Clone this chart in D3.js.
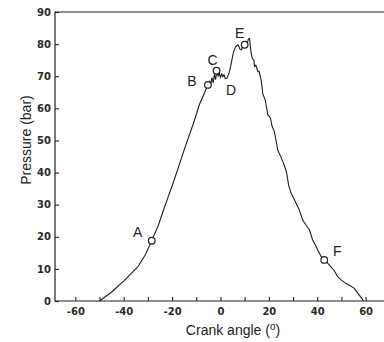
<!DOCTYPE html>
<html>
<head>
<meta charset="utf-8">
<script src="https://cdn.jsdelivr.net/npm/d3@7"></script>
<style>
  body { margin: 0; background: #fff; }
  svg { display: block; }
  .tick-label { font-family: "DejaVu Sans", sans-serif; font-size: 10px; font-weight: bold; fill: #2a2a2a; }
  .title { font-family: "Liberation Sans", Arial, sans-serif; font-size: 14px; fill: #222; }
  .marker-label { font-family: "Liberation Sans", Arial, sans-serif; font-size: 14px; fill: #222; }
</style>
</head>
<body>
<svg id="chart" width="384" height="342"></svg>
<script>
/*
    Values
 */
var crankAngle = [-50, -45, -40, -34, -31, -28.4, -25.7, -23.8, -22.2, -19, -14.9, -11.4, -8.7, -6.5, -5.2,
    -4.5, -4, -3.5, -3, -2.5, -2, -1.5, -1, -0.5, 0, 0.5, 1, 1.5, 2, 2.7, 3.3, 3.9,
    5.3, 6.2, 7.3, 8, 8.7, 9.3, 10, 10.5, 11, 11.5, 12, 12.4, 12.7, 13.2, 13.8, 14.1, 14.6,
    15.5, 16, 16.9, 17.5, 18.5, 19.6, 20.2, 20.7, 21.3, 22.3, 23.7, 25.8, 27.2, 28.2, 29.2,
    31.3, 32.5, 34, 35.5, 36.8, 38.1, 39.2, 40.2, 41.5, 42.9, 44, 45.6, 47, 48.4, 50, 51.8,
    53.5, 55.2, 57, 58.7, 59];
var pressure = [0, 2.8, 6.2, 10.8, 14.5, 18.8, 23.5, 27.8, 31.2, 38, 47.3, 54.8, 61.2, 65, 67.3,
    68.5, 67.5, 69.5, 68, 70.5, 69, 71.5, 70, 71, 69.5, 70.8, 69.8, 70.5, 69.2, 69.4, 70.5, 72,
    77.2, 79.2, 79.8, 78.5, 78.2, 79.5, 79.8, 80.8, 80, 81.5, 81.8, 79, 77.2, 75.5, 75, 73, 73.5,
    71.4, 71.5, 68.5, 64.5, 62.6, 57.9, 57.5, 56.9, 54.5, 52.7, 47, 43.4, 40.5, 36, 33.6,
    30.4, 28.5, 25.2, 23.5, 22.1, 19, 17.5, 15.9, 14, 12.8, 12, 10.7, 9.5, 7.6, 6.5, 5.5,
    4.8, 4, 2.2, 0.5, 0];

var markerNames = ["A", "B", "C", "D", "E", "F"];
var markerAngle = [-28.4, -5.2, -1.6, 2.7, 10, 42.9];
var markerPressure = [18.8, 67.3, 71.7, 69.4, 79.8, 12.8];
var markerCircle = [true, true, true, false, true, true];

var xTicks = [-60, -50, -40, -30, -20, -10, 0, 10, 20, 30, 40, 50, 60];
var xTickLabels = [-60, -40, -20, 0, 20, 40, 60];
var yTicks = [0, 10, 20, 30, 40, 50, 60, 70, 80, 90];

var svg = d3.select("#chart");

var x = d3.scaleLinear().domain([-68.4, 67.6]).range([55, 384]);
var y = d3.scaleLinear().domain([0, 90]).range([301, 12]);

// axes: ticks point inside the plot
var xAxis = d3.axisBottom(x)
    .tickValues(xTicks)
    .tickSize(-4)
    .tickFormat(function (d) { return xTickLabels.indexOf(d) !== -1 ? d : ""; });

var gx = svg.append("g")
    .attr("transform", "translate(0," + y(0) + ")")
    .call(xAxis);

gx.select(".domain").remove();
gx.selectAll(".tick line").attr("stroke", "#222").attr("stroke-width", 1.1);
gx.selectAll(".tick text")
    .attr("class", "tick-label")
    .attr("y", 7)
    .attr("dy", "0.71em")
    .attr("fill", null);

var yAxis = d3.axisLeft(y)
    .tickValues(yTicks)
    .tickSize(-4)
    .tickFormat(d3.format("d"));

var gy = svg.append("g")
    .attr("transform", "translate(" + x.range()[0] + ",0)")
    .call(yAxis);

gy.select(".domain").remove();
gy.selectAll(".tick line").attr("stroke", "#222").attr("stroke-width", 1.1);
gy.selectAll(".tick text")
    .attr("class", "tick-label")
    .attr("x", -4)
    .attr("fill", null);

// frame lines (left, bottom, top)
svg.append("path")
    .attr("d", "M" + x.range()[1] + "," + y(90) + "H" + x.range()[0] + "V" + y(0) + "H" + x.range()[1])
    .attr("fill", "none")
    .attr("stroke", "#222")
    .attr("stroke-width", 1.2);

// pressure curve
var points = crankAngle.map(function (a, i) { return [a, pressure[i]]; });

var line = d3.line()
    .x(function (d) { return x(d[0]); })
    .y(function (d) { return y(d[1]); });

svg.append("path")
    .datum(points)
    .attr("d", line)
    .attr("fill", "none")
    .attr("stroke", "#1e1e1e")
    .attr("stroke-width", 1.1)
    .attr("stroke-linejoin", "round");

// labelled points
var labelOffset = {A: [-14, -9], B: [-16, -4], C: [-4, -11], D: [4, 12], E: [-5, -12], F: [13, -9]};

var markers = markerNames.map(function (n, i) {
    return {name: n, a: markerAngle[i], p: markerPressure[i], circle: markerCircle[i]};
});

svg.selectAll(".marker")
    .data(markers.filter(function (d) { return d.circle; }))
    .enter().append("circle")
    .attr("class", "marker")
    .attr("cx", function (d) { return x(d.a); })
    .attr("cy", function (d) { return y(d.p); })
    .attr("r", 3.3)
    .attr("fill", "#fff")
    .attr("stroke", "#222")
    .attr("stroke-width", 1.2);

svg.selectAll(".marker-label")
    .data(markers)
    .enter().append("text")
    .attr("class", "marker-label")
    .attr("x", function (d) { return x(d.a) + labelOffset[d.name][0]; })
    .attr("y", function (d) { return y(d.p) + labelOffset[d.name][1]; })
    .attr("dy", "0.35em")
    .attr("text-anchor", "middle")
    .text(function (d) { return d.name; });

// axis titles
var xTitle = svg.append("text")
    .attr("class", "title")
    .attr("x", 233)
    .attr("y", 335)
    .attr("text-anchor", "middle");
xTitle.append("tspan").text("Crank angle (");
xTitle.append("tspan").attr("dy", -5).attr("font-size", "10px").text("o");
xTitle.append("tspan").attr("dy", 5).text(")");

svg.append("text")
    .attr("class", "title")
    .attr("transform", "translate(31,140) rotate(-90)")
    .attr("text-anchor", "middle")
    .text("Pressure (bar)");
</script>
</body>
</html>
